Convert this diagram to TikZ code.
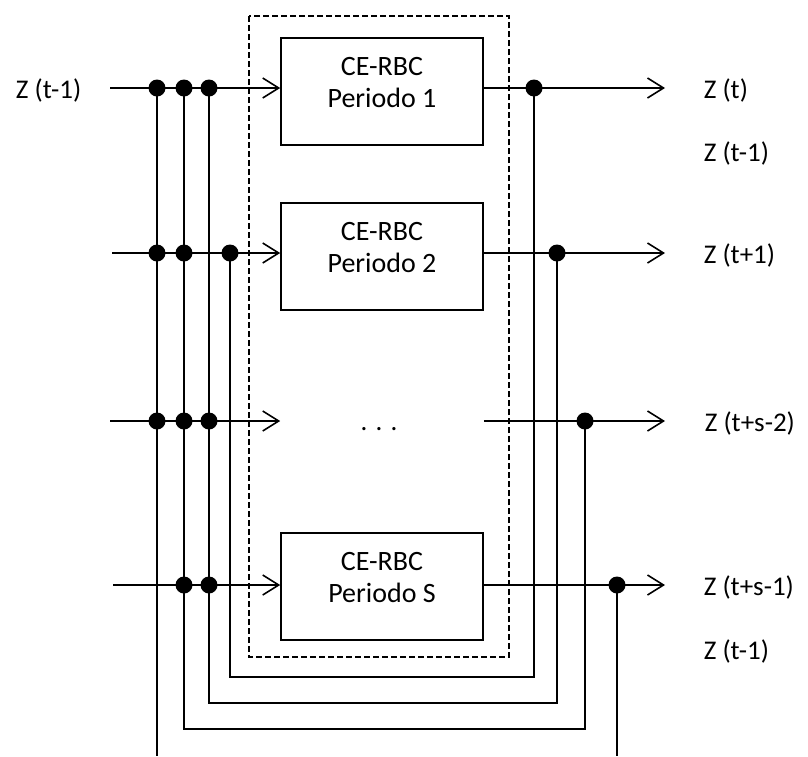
\documentclass[tikz,border=0pt]{standalone}
\usepackage{fontspec}
\setmainfont{Carlito}
\usetikzlibrary{arrows.meta}

\begin{document}
\begin{tikzpicture}[x=1pt,y=-1pt,line width=1.6pt,
  box/.style={draw,minimum width=202pt,minimum height=107pt},
  boxtext/.style={align=center,yshift=9pt,font=\fontsize{28}{32}\selectfont},
  lbl/.style={anchor=west,inner sep=0pt,font=\fontsize{27}{33}\selectfont},
  dot/.style={circle,fill,inner sep=0pt,minimum size=17pt},
  flow/.style={-{Straight Barb[length=16pt,width=20pt]}}]
\useasboundingbox (0,0) rectangle (808,756);
\draw[line width=1.2pt,dash pattern=on 6pt off 3pt] (249,16) rectangle (509,657);
\node[box,label={[boxtext]center:CE-RBC\\Periodo 1}] (p1) at (382,91.5) {};
\node[box,label={[boxtext]center:CE-RBC\\Periodo 2}] (p2) at (382,256.5) {};
\node[box,label={[boxtext]center:CE-RBC\\Periodo S}] (ps) at (382,586.5) {};
\node[font=\fontsize{27}{33}\selectfont] (pd) at (379,429) {. . .};
\coordinate (in1) at (110,88); \coordinate (out1) at (665,88);
\coordinate (in2) at (112,253); \coordinate (out2) at (665,253);
\coordinate (in3) at (110,421); \coordinate (out3) at (665,421);
\coordinate (in4) at (113,585); \coordinate (out4) at (665,585);
\node[lbl,anchor=east] (zin) at (82,90) {Z (t-1)};
\node[lbl] (z1) at (703,90) {Z (t)};
\node[lbl] (z1b) at (703,153) {Z (t-1)};
\node[lbl] (z2) at (703,255) {Z (t+1)};
\node[lbl] (z3) at (704,423) {Z (t+s-2)};
\node[lbl] (z4) at (703,587) {Z (t+s-1)};
\node[lbl] (z4b) at (703,651) {Z (t-1)};
\draw[flow] (in1) -- (p1.west |- in1);
\draw[flow] (p1.east |- in1) -- (out1);
\draw[flow] (in2) -- (p2.west |- in2);
\draw[flow] (p2.east |- in2) -- (out2);
\draw[flow] (in3) -- (p2.west |- in3);
\draw[flow] (p2.east |- in3) -- (out3);
\draw[flow] (in4) -- (ps.west |- in4);
\draw[flow] (ps.east |- in4) -- (out4);
\node[dot] (a1) at (157,88) {}; \node[dot] (b1) at (184,88) {}; \node[dot] (c1) at (209,88) {};
\node[dot] (a2) at (157,253) {}; \node[dot] (b2) at (184,253) {}; \node[dot] (d2) at (230,253) {};
\node[dot] (a3) at (157,421) {}; \node[dot] (b3) at (184,421) {}; \node[dot] (c3) at (209,421) {};
\node[dot] (b4) at (184,585) {}; \node[dot] (c4) at (209,585) {};
\node[dot] (r1) at (534,88) {}; \node[dot] (r2) at (557,253) {};
\node[dot] (r3) at (585,421) {}; \node[dot] (r4) at (617,585) {};
\draw (a1.center) -- (a3.center) -- (157,756);
\draw (b1.center) -- (b4.center) -- (184,729) -| (r3.center);
\draw (c1.center) -- (c4.center) -- (209,703) -| (r2.center);
\draw (d2.center) -- (230,677) -| (r1.center);
\draw (r4.center) -- (617,756);
\end{tikzpicture}
\end{document}
